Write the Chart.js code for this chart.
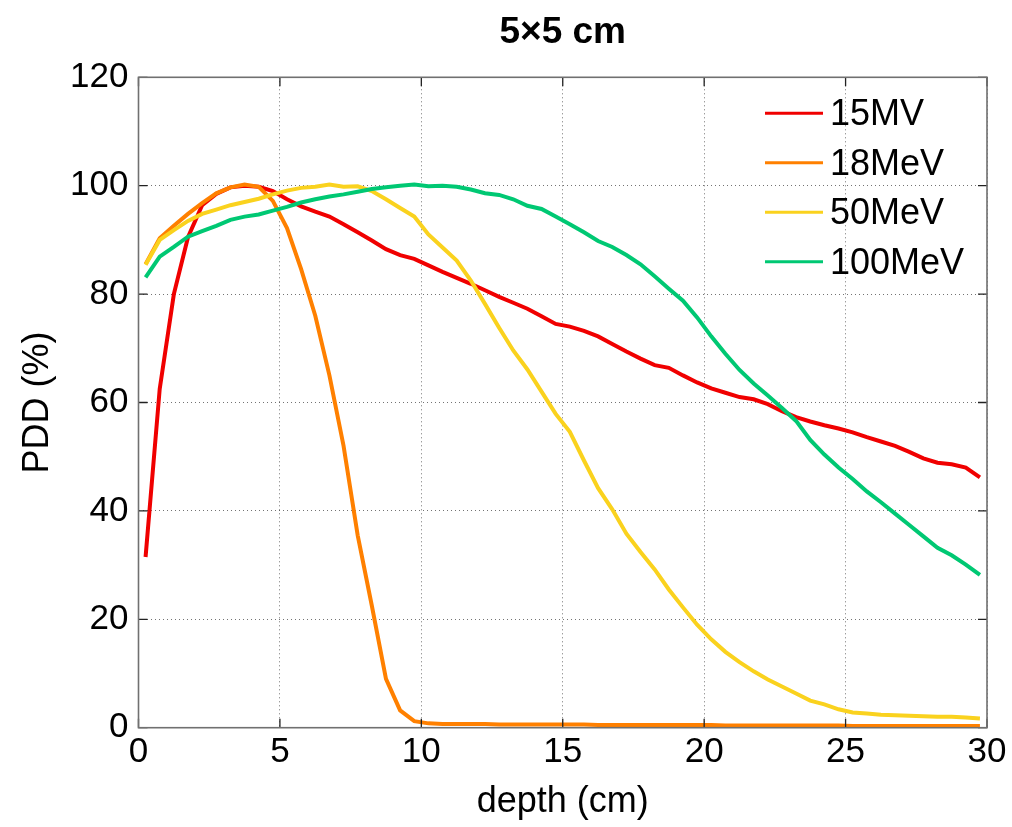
<!DOCTYPE html>
<html>
<head>
<meta charset="utf-8">
<script src="https://cdn.jsdelivr.net/npm/chart.js@4.4.1/dist/chart.umd.min.js"></script>
<style>
  html, body { margin: 0; padding: 0; background: #fff; }
  #wrap { width: 1012px; height: 827px; position: relative; }
</style>
</head>
<body>
<div id="wrap"><canvas id="c" width="1012" height="827"></canvas></div>
<script>
const depth = [
  0.25, 0.75, 1.25, 1.75, 2.25, 2.75, 3.25, 3.75, 4.25, 4.75,
  5.25, 5.75, 6.25, 6.75, 7.25, 7.75, 8.25, 8.75, 9.25, 9.75,
  10.25, 10.75, 11.25, 11.75, 12.25, 12.75, 13.25, 13.75, 14.25, 14.75,
  15.25, 15.75, 16.25, 16.75, 17.25, 17.75, 18.25, 18.75, 19.25, 19.75,
  20.25, 20.75, 21.25, 21.75, 22.25, 22.75, 23.25, 23.75, 24.25, 24.75,
  25.25, 25.75, 26.25, 26.75, 27.25, 27.75, 28.25, 28.75, 29.25, 29.75
];
const pdd15MV = [
  31.5, 62.5, 80.0, 90.5, 96.4, 98.5, 99.7, 100.0, 99.8, 99.0,
  97.5, 96.2, 95.2, 94.3, 92.9, 91.4, 89.9, 88.3, 87.2, 86.5,
  85.3, 84.1, 83.0, 81.9, 80.7, 79.5, 78.4, 77.3, 75.9, 74.5,
  74.0, 73.2, 72.2, 70.8, 69.4, 68.1, 66.9, 66.4, 65.0, 63.7,
  62.6, 61.8, 61.0, 60.6, 59.7, 58.4, 57.3, 56.5, 55.8, 55.2,
  54.5, 53.6, 52.8, 52.0, 50.9, 49.7, 48.9, 48.6, 48.0, 46.2
];
const pdd18MeV = [
  85.5, 90.3, 92.6, 94.8, 96.8, 98.6, 99.7, 100.2, 99.8, 97.2,
  92.2, 84.6, 76.0, 65.0, 52.0, 35.5, 22.5, 9.0, 3.2, 1.2,
  0.8, 0.7, 0.7, 0.7, 0.7, 0.6, 0.6, 0.6, 0.6, 0.6,
  0.6, 0.6, 0.5, 0.5, 0.5, 0.5, 0.5, 0.5, 0.5, 0.5,
  0.5, 0.4, 0.4, 0.4, 0.4, 0.4, 0.4, 0.4, 0.4, 0.4,
  0.3, 0.3, 0.3, 0.3, 0.3, 0.3, 0.3, 0.3, 0.3, 0.3
];
const pdd50MeV = [
  85.4, 90.0, 91.8, 93.5, 94.8, 95.6, 96.4, 97.0, 97.6, 98.4,
  99.1, 99.6, 99.8, 100.2, 99.8, 99.9, 99.0, 97.5, 95.9, 94.3,
  91.0, 88.6, 86.2, 82.5, 78.2, 73.8, 69.6, 66.1, 62.0, 57.9,
  54.6, 49.3, 44.2, 40.3, 35.8, 32.4, 29.2, 25.5, 22.2, 19.0,
  16.3, 14.0, 12.1, 10.4, 8.9, 7.6, 6.3, 5.0, 4.3, 3.4,
  2.8, 2.6, 2.4, 2.3, 2.2, 2.1, 2.0, 2.0, 1.9, 1.7
];
const pdd100MeV = [
  83.1, 86.9, 88.7, 90.6, 91.6, 92.6, 93.7, 94.3, 94.7, 95.4,
  96.1, 96.9, 97.5, 98.0, 98.4, 98.9, 99.4, 99.7, 100.0, 100.2,
  99.9, 100.0, 99.8, 99.3, 98.6, 98.3, 97.5, 96.3, 95.7, 94.3,
  92.9, 91.4, 89.8, 88.7, 87.2, 85.5, 83.3, 81.0, 78.8, 75.7,
  72.2, 69.0, 66.0, 63.5, 61.3, 59.0, 56.6, 53.1, 50.4, 48.0,
  45.9, 43.6, 41.6, 39.5, 37.4, 35.3, 33.2, 31.8, 30.1, 28.2
];
const seriesLabels = ['15MV', '18MeV', '50MeV', '100MeV'];
const seriesColors = ['#f00000', '#ff8000', '#fad21e', '#00c873'];
const seriesValues = [pdd15MV, pdd18MeV, pdd50MeV, pdd100MeV];
const xTicks = [0, 5, 10, 15, 20, 25, 30];
const yTicks = [0, 20, 40, 60, 80, 100, 120];

const FONT = "'Liberation Sans', Arial, Helvetica, sans-serif";

const datasets = seriesLabels.map((lab, i) => ({
  label: lab,
  data: depth.map((d, k) => ({ x: d, y: seriesValues[i][k] })),
  borderColor: seriesColors[i],
  backgroundColor: seriesColors[i],
  borderWidth: 4,
  pointRadius: 0,
  tension: 0,
  fill: false,
  order: seriesLabels.length - i
}));

const frame = {
  id: 'frame',
  afterDatasetsDraw(chart) {
    const { ctx, chartArea: a, scales } = chart;
    ctx.save();
    ctx.strokeStyle = '#222';
    ctx.lineWidth = 1.3;
    const tl = 9;
    ctx.beginPath();
    xTicks.forEach(v => {
      const px = scales.x.getPixelForValue(v);
      ctx.moveTo(px, a.bottom); ctx.lineTo(px, a.bottom - tl);
      ctx.moveTo(px, a.top); ctx.lineTo(px, a.top + tl);
    });
    yTicks.forEach(v => {
      const py = scales.y.getPixelForValue(v);
      ctx.moveTo(a.left, py); ctx.lineTo(a.left + tl, py);
      ctx.moveTo(a.right, py); ctx.lineTo(a.right - tl, py);
    });
    ctx.stroke();
    ctx.strokeStyle = '#707070';
    ctx.lineWidth = 1.6;
    ctx.strokeRect(a.left, a.top, a.right - a.left, a.bottom - a.top);
    const x0 = a.right - 222;
    const y0 = a.top + 36;
    const dy = 49.5;
    ctx.font = '36px ' + FONT;
    ctx.textBaseline = 'middle';
    ctx.textAlign = 'left';
    seriesLabels.forEach((lab, i) => {
      const y = y0 + i * dy;
      ctx.strokeStyle = seriesColors[i];
      ctx.lineWidth = 3;
      ctx.beginPath();
      ctx.moveTo(x0, y); ctx.lineTo(x0 + 58, y);
      ctx.stroke();
      ctx.fillStyle = '#000';
      ctx.fillText(lab, x0 + 65, y + 2);
    });
    ctx.restore();
  }
};

new Chart(document.getElementById('c'), {
  type: 'line',
  data: { datasets },
  plugins: [frame],
  options: {
    responsive: false,
    animation: false,
    layout: { padding: { left: 0, right: 25, top: 0, bottom: 0 } },
    plugins: {
      legend: { display: false },
      tooltip: { enabled: false },
      title: {
        display: true,
        text: '5×5 cm',
        fullSize: false,
        color: '#000',
        font: { family: FONT, size: 37, weight: 'bold' },
        padding: { top: 10.5, bottom: 22.4 }
      }
    },
    scales: {
      x: {
        type: 'linear',
        min: 0, max: 30,
        afterBuildTicks(scale) { scale.ticks = xTicks.map(v => ({ value: v })); },
        afterFit(scale) { scale.height = 99.3; },
        ticks: {
          color: '#000',
          font: { family: FONT, size: 35 },
          padding: 4,
          maxRotation: 0,
          autoSkip: false
        },
        grid: { color: 'rgba(0,0,0,0.55)', lineWidth: 1, drawTicks: false },
        border: { display: false, dash: [1, 3] },
        title: {
          display: true,
          text: 'depth (cm)',
          color: '#000',
          font: { family: FONT, size: 36 },
          padding: { top: 0, bottom: 3 }
        }
      },
      y: {
        type: 'linear',
        min: 0, max: 120,
        afterBuildTicks(scale) { scale.ticks = yTicks.map(v => ({ value: v })); },
        afterFit(scale) { scale.width = 138.5; },
        ticks: {
          color: '#000',
          font: { family: FONT, size: 35 },
          padding: 10,
          autoSkip: false
        },
        grid: { color: 'rgba(0,0,0,0.55)', lineWidth: 1, drawTicks: false },
        border: { display: false, dash: [1, 3] },
        title: {
          display: true,
          text: 'PDD (%)',
          color: '#000',
          font: { family: FONT, size: 36 },
          padding: { top: 16, bottom: 0 }
        }
      }
    }
  }
});
</script>
</body>
</html>
